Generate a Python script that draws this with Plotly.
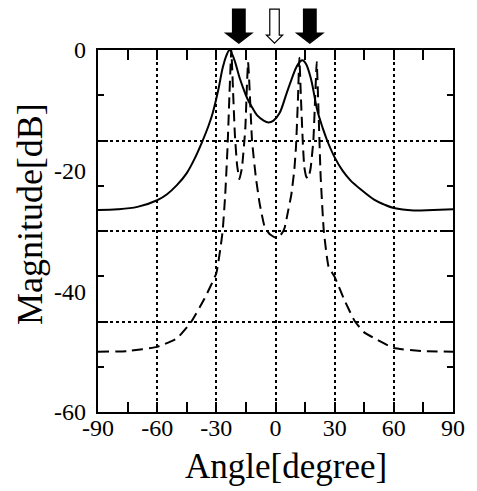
import plotly.graph_objects as go

# ---- data ----
solid_angle = [-90, -80, -70, -60, -55, -50, -45, -41, -37.3, -34, -31.8, -29, -26.8, -25,
               -23.3, -21, -18, -15, -13.6, -11, -9.4, -6, -3.6, -1, 2, 5.5, 8, 10.5, 12.5,
               13.8, 15.5, 18, 21.2, 24, 26.2, 30, 34, 38, 43.6, 50, 55, 60, 70, 80, 90]
solid_db = [-26.5, -26.4, -26.0, -24.9, -23.9, -22.4, -20.4, -18.0, -15.3, -12.6, -10.4, -6.6,
            -3.0, -1.0, 0.0, -1.5, -4.8, -7.5, -8.5, -10.0, -10.8, -11.7, -12.0, -11.7, -10.5,
            -7.3, -5.0, -2.9, -1.9, -1.7, -2.3, -4.8, -10.0, -13.0, -15.0, -17.8, -20.0, -21.6,
            -23.2, -24.8, -25.6, -26.2, -26.6, -26.5, -26.4]

dash_angle = [-90, -75, -60, -50, -42.6, -36, -30, -28, -26.8, -25.5, -24.3, -23.3, -22.4,
              -21.5, -20.6, -19.5, -18.3, -17, -15.3, -14.5, -13.9, -13.2, -11.9, -10, -8,
              -5.5, -3, 0, 3, 4.6, 6.5, 8, 9.5, 10.4, 11.4, 12.1, 12.9, 13.8, 14.6, 15.6,
              16.6, 17.8, 19.2, 20.1, 20.9, 21.7, 22.9, 24.5, 26.9, 30, 35, 40.3, 45, 50.2,
              60, 75, 90]
dash_db = [-50, -49.9, -49.2, -47.8, -45, -41.2, -37, -33, -30, -24, -16, -7, 0,
           -7, -14, -19, -21.4, -19.5, -13, -6, -2, -6, -15, -21, -25.5,
           -29.3, -30.5, -31.1, -30.5, -29.5, -26.5, -24, -20, -16, -8, -1.3, -8, -15, -19.4, -21,
           -21.3, -19.6, -15, -8, -2, -9, -21, -30, -35.9, -37.6, -41.5, -45, -46.8, -47.8,
           -49.4, -49.9, -50]

x_ticks = [-90, -60, -30, 0, 30, 60, 90]
x_ticktext = ["-90", "-60", "-30", "0", "30", "60", "90"]
x_minor = [-75, -45, -15, 15, 45, 75]
y_grid = [-15, -30, -45]
y_minor = [-7.5, -22.5, -37.5, -52.5]
y_labels = [0, -20, -40, -60]
y_labeltext = ["0", "-20", "-40", "-60"]

arrow_angles = [-18.6, -0.5, 17.4]
arrow_fill = ["black", "white", "black"]
arrow_shaft_half = [3.2, 2.4, 3.2]
arrow_head_half = [6.7, 4.1, 6.7]

FONT = "Liberation Serif, Times New Roman, serif"

fig = go.Figure()
fig.add_trace(go.Scatter(x=solid_angle, y=solid_db, mode="lines",
                         line=dict(color="black", width=2, shape="spline", smoothing=1.0),
                         showlegend=False))
fig.add_trace(go.Scatter(x=dash_angle, y=dash_db, mode="lines", yaxis="y2",
                         line=dict(color="black", width=2, dash="11px,6px", shape="spline",
                                   smoothing=0.4),
                         showlegend=False))

# arrows above the plot
shapes = []
y_top, y_head, y_tip = 1.113, 1.047, 1.019
for a, c, sw, hw in zip(arrow_angles, arrow_fill, arrow_shaft_half, arrow_head_half):
    yh = y_head if c == "black" else y_head - 0.006
    path = (f"M {a-sw},{y_top} L {a+sw},{y_top} L {a+sw},{yh} L {a+hw},{yh} "
            f"L {a},{y_tip} L {a-hw},{yh} L {a-sw},{yh} Z")
    shapes.append(dict(type="path", path=path, xref="x", yref="paper",
                       fillcolor=c, line=dict(color="black", width=1.2)))

fig.update_layout(
    width=477, height=491,
    margin=dict(l=98, r=17, t=50, b=79),
    paper_bgcolor="white", plot_bgcolor="white",
    font=dict(family=FONT, color="black", size=24),
    shapes=shapes,
    xaxis=dict(range=[-90, 90], tickvals=x_ticks, ticktext=x_ticktext, ticks="inside",
               ticklen=10, tickwidth=1.5, tickcolor="black",
               showgrid=True, gridcolor="black", gridwidth=1.5, griddash="dot",
               showline=True, linecolor="black", linewidth=2, mirror="allticks",
               zeroline=False, tickfont=dict(family=FONT, size=24),
               ticklabelstandoff=-7,
               minor=dict(tickvals=x_minor, ticks="inside", ticklen=6, tickwidth=1.5,
                          tickcolor="black", showgrid=False)),
    yaxis=dict(range=[-60, 0], tickvals=y_grid, ticks="inside", ticklen=10,
               tickwidth=1.5, tickcolor="black", showticklabels=False,
               showgrid=True, gridcolor="black", gridwidth=1.5, griddash="dot",
               showline=True, linecolor="black", linewidth=2, mirror="allticks",
               zeroline=False,
               minor=dict(tickvals=y_minor, ticks="inside", ticklen=6, tickwidth=1.5,
                          tickcolor="black", showgrid=False)),
    yaxis2=dict(range=[-60, 0], overlaying="y", side="left", anchor="x",
                tickvals=y_labels, ticktext=y_labeltext, ticks="", showgrid=False,
                showline=False, zeroline=False, tickfont=dict(family=FONT, size=24),
                ticklabelstandoff=11),
    annotations=[
        dict(text="Angle[degree]", xref="paper", yref="paper", x=0.53, y=-0.15,
             xanchor="center", yanchor="middle", showarrow=False,
             font=dict(family=FONT, size=35)),
        dict(text="Magnitude[dB]", xref="paper", yref="paper", x=-0.193, y=0.548,
             xanchor="center", yanchor="middle", showarrow=False, textangle=-90,
             font=dict(family=FONT, size=36)),
    ],
)

fig.write_html("out.html")
